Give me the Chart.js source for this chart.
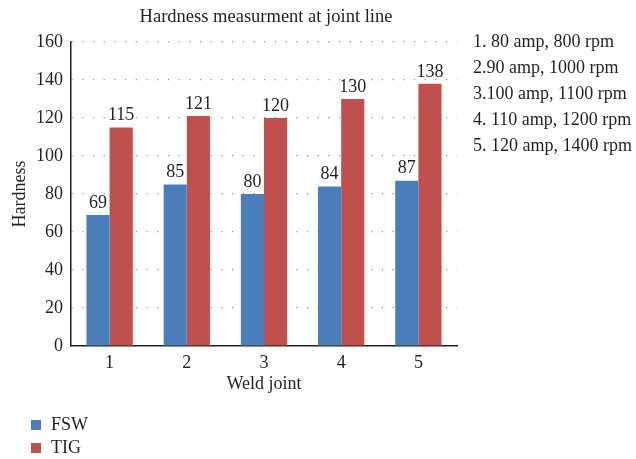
<!DOCTYPE html>
<html>
<head>
<meta charset="utf-8">
<script src="https://cdn.jsdelivr.net/npm/chart.js@4"></script>
<style>
  html, body { margin: 0; padding: 0; background: #fff; }
  #wrap { width: 636px; height: 459px; position: relative; }
</style>
</head>
<body>
<div id="wrap"><canvas id="hardnessChart"></canvas></div>
<script>
// Data
const joints = ['1', '2', '3', '4', '5'];
const fswValues = [69, 85, 80, 84, 87];
const tigValues = [115, 121, 120, 130, 138];
const yTicks = [0, 20, 40, 60, 80, 100, 120, 140, 160];
const chartTitle = 'Hardness measurment at joint line';
const jointNotes = [
    '1. 80 amp, 800 rpm',
    '2.90 amp, 1000 rpm',
    '3.100 amp, 1100 rpm',
    '4. 110 amp, 1200 rpm',
    '5. 120 amp, 1400 rpm'
];

const textColor = '#231f20';
const serif = '"Liberation Serif", "DejaVu Serif", serif';

// hodnoty nad sloupci
const valueLabels = {
    id: 'valueLabels',
    afterDatasetsDraw(chart) {
        const ctx = chart.ctx;
        ctx.save();
        ctx.font = '18px ' + serif;
        ctx.fillStyle = textColor;
        ctx.textAlign = 'center';
        ctx.textBaseline = 'bottom';
        chart.data.datasets.forEach((ds, i) => {
            chart.getDatasetMeta(i).data.forEach((bar, j) => {
                ctx.fillText(ds.data[j], bar.x, bar.y - 3);
            });
        });
        ctx.restore();
    }
};

// titulek, poznámky vpravo + legenda dole
const sideText = {
    id: 'sideText',
    afterDraw(chart) {
        const ctx = chart.ctx;
        const y = chart.scales.y;
        ctx.save();
        ctx.fillStyle = textColor;
        ctx.textBaseline = 'middle';

        ctx.font = '18.5px ' + serif;
        ctx.textAlign = 'center';
        ctx.fillText(chartTitle, 266, 17);

        ctx.font = '18px ' + serif;
        ctx.textAlign = 'left';
        jointNotes.forEach((t, i) => {
            ctx.fillText(t, 473, y.getPixelForValue(160) + i * 26);
        });

        chart.data.datasets.forEach((ds, i) => {
            const ly = 425 + i * 23;
            ctx.fillStyle = ds.backgroundColor;
            ctx.fillRect(31, ly - 5, 10, 10);
            ctx.fillStyle = textColor;
            ctx.fillText(ds.label, 51, ly);
        });
        ctx.restore();
    }
};

const ctxHardness = document.getElementById('hardnessChart').getContext('2d');
new Chart(ctxHardness, {
    type: 'bar',
    data: {
        labels: joints,
        datasets: [{
            label: 'FSW',
            data: fswValues,
            backgroundColor: '#4a7ebb',
            barPercentage: 1,
            categoryPercentage: 0.6
        }, {
            label: 'TIG',
            data: tigValues,
            backgroundColor: '#c0504d',
            barPercentage: 1,
            categoryPercentage: 0.6
        }]
    },
    options: {
        responsive: true,
        maintainAspectRatio: false,
        animation: false,
        layout: { padding: { left: 0, right: 179, top: 42, bottom: 60 } },
        plugins: {
            legend: { display: false },
            tooltip: { enabled: false },
            title: { display: false }
        },
        scales: {
            x: {
                grid: { display: false, drawTicks: false },
                border: { display: true, color: '#231f20', width: 1.5 },
                ticks: { color: textColor, font: { family: serif, size: 18 }, padding: 6 },
                title: {
                    display: true, text: 'Weld joint', color: textColor,
                    font: { family: serif, size: 18 }, padding: { top: 5 }
                },
                afterFit(scale) { scale.height = 53; }
            },
            y: {
                min: 0,
                max: 160,
                afterBuildTicks(scale) { scale.ticks = yTicks.map(v => ({ value: v })); },
                grid: {
                    drawTicks: false,
                    color: ctx => ctx.tick.value === 0 ? 'rgba(0,0,0,0)' : '#8c8c8c',
                    lineWidth: 1.2
                },
                border: { display: true, color: '#231f20', width: 1.5, dash: [1.2, 9.5] },
                ticks: { color: textColor, font: { family: serif, size: 18 }, padding: 8 },
                title: {
                    display: true, text: 'Hardness', color: textColor,
                    font: { family: serif, size: 18 }, padding: { top: 9, bottom: 0 }
                },
                afterFit(scale) { scale.width = 71; }
            }
        }
    },
    plugins: [valueLabels, sideText]
});
</script>
</body>
</html>
